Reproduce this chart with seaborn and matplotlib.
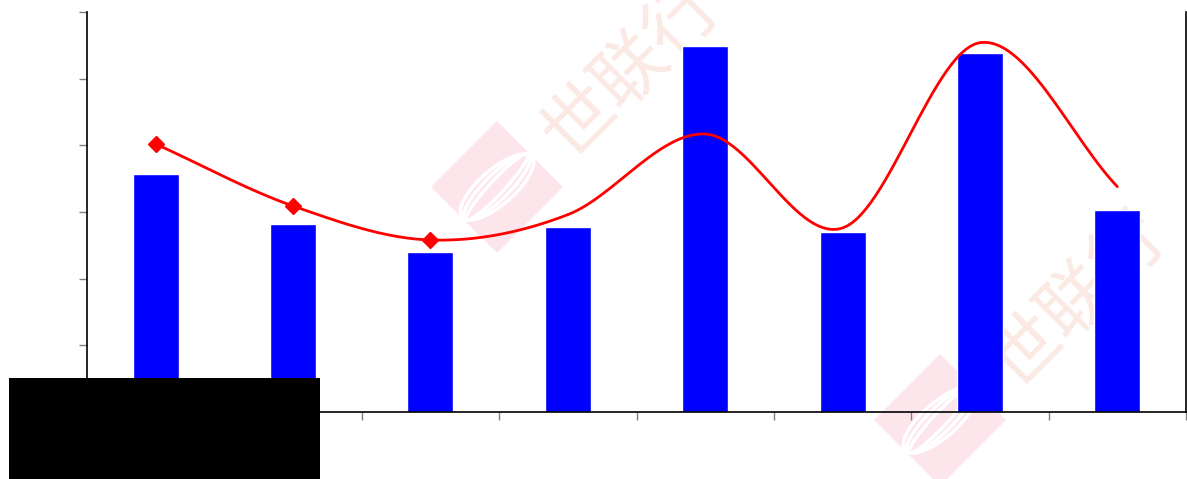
import numpy as np
import pandas as pd
import seaborn as sns
import matplotlib.pyplot as plt
from matplotlib.patches import Rectangle, Polygon, Ellipse

# data
categories = ['c1', 'c2', 'c3', 'c4', 'c5', 'c6', 'c7', 'c8']
bar_values = [3.57, 2.82, 2.40, 2.78, 5.49, 2.70, 5.39, 3.03]
line_values = [4.02, 3.09, 2.58, 2.96, 4.17, 2.76, 5.54, 3.38]
n_marked = 3  # only the first points carry a diamond marker

sns.set_style('white')
plt.rcParams['font.family'] = ['Noto Sans CJK SC', 'DejaVu Sans']

W, H = 1187, 479
fig = plt.figure(figsize=(W / 100, H / 100), dpi=100)
ax = fig.add_axes([87 / W, 1 - 412 / H, (1186 - 87) / W, (412 - 12) / H])
ax.patch.set_alpha(0)


def px(x, y):
    return (x / W, 1 - y / H)


# watermark (behind the plot)
for cx, cy, tx, ty in [(497, 187, 632, 70), (940, 420, 1078, 300)]:
    r = 66
    verts = [px(cx - r, cy), px(cx, cy - r), px(cx + r, cy), px(cx, cy + r)]
    fig.patches.append(Polygon(verts, closed=True, transform=fig.transFigure,
                               facecolor='#fde5ec', edgecolor='none', zorder=-2))
    for k in range(3):
        w = 18 + k * 14
        ell = Ellipse(px(cx, cy), w / W, 70 / H, angle=-20,
                      transform=fig.transFigure, fill=False,
                      edgecolor='white', lw=2.5, zorder=-1)
        fig.patches.append(ell)
    fig.text(*px(tx, ty), '世联行', rotation=45, fontsize=52, color='#fbe9e4',
             ha='center', va='center', zorder=-1)

df = pd.DataFrame({'cat': categories, 'bar': bar_values, 'line': line_values})
sns.barplot(data=df, x='cat', y='bar', color='#0000ff', saturation=1,
            width=0.335, ax=ax, zorder=2)


# smooth line through the points (Catmull-Rom, like a spreadsheet smoothed line)
def smooth(xs, ys, steps=30):
    p = np.column_stack([xs, ys]).astype(float)
    p = np.vstack([2 * p[0] - p[1], p, 2 * p[-1] - p[-2]])
    out = []
    t = np.linspace(0, 1, steps)
    for i in range(1, len(p) - 2):
        p0, p1, p2, p3 = p[i - 1], p[i], p[i + 1], p[i + 2]
        seg = 0.5 * ((2 * p1)[None] + np.outer(t, -p0 + p2)
                     + np.outer(t ** 2, 2 * p0 - 5 * p1 + 4 * p2 - p3)
                     + np.outer(t ** 3, -p0 + 3 * p1 - 3 * p2 + p3))
        out.append(seg)
    return np.vstack(out)


xs = np.arange(len(categories))
curve = smooth(xs, line_values)
ax.plot(curve[:, 0], curve[:, 1], color='#ff0000', lw=2, zorder=3)
ax.plot(xs[:n_marked], line_values[:n_marked], ls='none', marker='D',
        ms=8, color='#ff0000', zorder=4)

ax.set_xlim(-0.5, len(categories) - 0.5)
ax.set_ylim(0, 6)
ax.set_xticks(list(xs + 0.5))
ax.set_xticklabels([''] * len(categories))
ax.set_yticks(range(7))
ax.set_yticklabels([''] * 7)
ax.set_xlabel('')
ax.set_ylabel('')
ax.tick_params(axis='both', direction='out', length=6, color='#808080', width=1)
ax.tick_params(axis='x', bottom=True)
ax.tick_params(axis='y', left=True)
for s in ['left', 'bottom', 'right']:
    ax.spines[s].set_visible(True)
    ax.spines[s].set_color('black')
    ax.spines[s].set_linewidth(1.2)
ax.spines['top'].set_visible(False)

# black box in the lower left corner
fig.patches.append(Rectangle(px(9, 479), 311 / W, 101 / H, transform=fig.transFigure,
                             facecolor='black', edgecolor='none', zorder=10))

fig.savefig('out.png', dpi=100, facecolor='white')
